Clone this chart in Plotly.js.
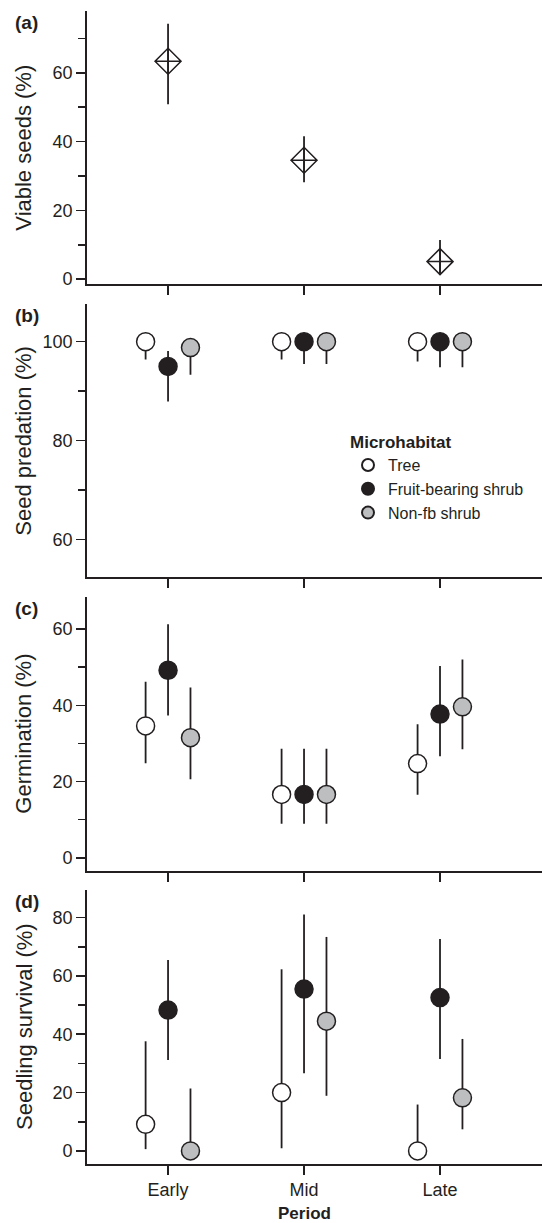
<!DOCTYPE html>
<html>
<head>
<meta charset="utf-8">
<script src="https://cdn.plot.ly/plotly-3.0.1.min.js"></script>
<style>html,body{margin:0;padding:0;background:#fff;}#chart{width:542px;height:1223px;}</style>
</head>
<body>
<div id="chart"></div>
<script>
// ---- Data ----
var categories = ['Early', 'Mid', 'Late'];
var microhabitats = ['Tree', 'Fruit-bearing shrub', 'Non-fb shrub'];

// (a) Viable seeds (%)
var viable = [63.4, 34.6, 5.1];
var viableHi = [74.3, 41.6, 11.4];
var viableLo = [50.9, 28.2, 1.5];

// (b) Seed predation (%)
var predTree = [100, 100, 100];
var predTreeLo = [96.4, 96.4, 96.0];
var predTreeHi = [100, 100, 100];
var predFb = [95.0, 100, 100];
var predFbLo = [87.9, 95.5, 94.8];
var predFbHi = [98.1, 100, 100];
var predNfb = [98.8, 100, 100];
var predNfbLo = [93.3, 95.5, 94.8];
var predNfbHi = [100, 100, 100];

// (c) Germination (%)
var germTree = [34.6, 16.6, 24.7];
var germTreeLo = [24.8, 8.9, 16.5];
var germTreeHi = [46.2, 28.6, 35.0];
var germFb = [49.2, 16.6, 37.7];
var germFbLo = [37.3, 8.9, 26.6];
var germFbHi = [61.3, 28.6, 50.3];
var germNfb = [31.5, 16.6, 39.6];
var germNfbLo = [20.6, 8.9, 28.5];
var germNfbHi = [44.7, 28.6, 52.0];

// (d) Seedling survival (%)
var survTree = [9.1, 20.0, 0];
var survTreeLo = [0.6, 0.9, 0];
var survTreeHi = [37.6, 62.3, 15.9];
var survFb = [48.3, 55.5, 52.6];
var survFbLo = [31.2, 26.6, 31.5];
var survFbHi = [65.5, 81.1, 72.7];
var survNfb = [0, 44.5, 18.2];
var survNfbLo = [0, 18.9, 7.4];
var survNfbHi = [21.4, 73.4, 38.4];

// ---- Styles ----
var INK = '#231f20';
var FONT = 'Liberation Sans, Arial, Helvetica, sans-serif';
var fills = ['#ffffff', '#231f20', '#bcbec0'];
var offsets = [-0.165, 0, 0.165];
var W = 542, H = 1223;

function px2x(px) { return px / W; }
function px2y(py) { return 1 - py / H; }

var panels = [
  {top: 11, bottom: 284.3, range: [-1.5, 78], title: 'Viable seeds (%)', label: '(a)'},
  {top: 304, bottom: 577.3, range: [52.4, 107.6], title: 'Seed predation (%)', label: '(b)'},
  {top: 596.7, bottom: 870.7, range: [-3.4, 68.5], title: 'Germination (%)', label: '(c)'},
  {top: 890, bottom: 1164, range: [-4.5, 89.5], title: 'Seedling survival (%)', label: '(d)'}
];

var idx = categories.map(function (c, i) { return i; });

function errBar(val, lo, hi) {
  return {
    type: 'data', symmetric: false,
    array: val.map(function (v, i) { return hi[i] - v; }),
    arrayminus: val.map(function (v, i) { return v - lo[i]; }),
    color: INK, thickness: 1.8, width: 0
  };
}

var traces = [];
traces.push({
  type: 'scatter', mode: 'markers', xaxis: 'x', yaxis: 'y',
  x: idx, y: viable, showlegend: false, name: 'Viable seeds',
  marker: {symbol: 'diamond-cross-open', size: 20, color: INK, line: {color: INK, width: 1.5}},
  error_y: errBar(viable, viableLo, viableHi)
});

var groups = [
  {ax: '2', sets: [[predTree, predTreeLo, predTreeHi], [predFb, predFbLo, predFbHi], [predNfb, predNfbLo, predNfbHi]], legend: true},
  {ax: '3', sets: [[germTree, germTreeLo, germTreeHi], [germFb, germFbLo, germFbHi], [germNfb, germNfbLo, germNfbHi]], legend: false},
  {ax: '4', sets: [[survTree, survTreeLo, survTreeHi], [survFb, survFbLo, survFbHi], [survNfb, survNfbLo, survNfbHi]], legend: false}
];
groups.forEach(function (g) {
  g.sets.forEach(function (s, k) {
    traces.push({
      type: 'scatter', mode: 'markers', xaxis: 'x' + g.ax, yaxis: 'y' + g.ax,
      name: microhabitats[k], showlegend: g.legend,
      x: idx.map(function (i) { return i + offsets[k]; }), y: s[0],
      marker: {symbol: 'circle', size: 18, color: fills[k], line: {color: INK, width: 1.5}},
      error_y: errBar(s[0], s[1], s[2])
    });
  });
});

var layout = {
  width: W, height: H,
  margin: {l: 0, r: 0, t: 0, b: 0},
  paper_bgcolor: '#fff', plot_bgcolor: '#fff',
  font: {family: FONT, color: INK, size: 18},
  showlegend: true,
  legend: {
    x: px2x(348), y: px2y(426), xanchor: 'left', yanchor: 'top',
    bgcolor: 'rgba(0,0,0,0)', itemsizing: 'constant',
    font: {family: FONT, size: 16, color: INK},
    title: {text: '<b>Microhabitat</b>', font: {family: FONT, size: 17, color: INK}}
  },
  annotations: []
};

panels.forEach(function (p, i) {
  var n = i === 0 ? '' : String(i + 1);
  var xa = {
    domain: [px2x(87), 1], range: [-0.596, 2.75], anchor: 'y' + n,
    showline: true, linecolor: INK, linewidth: 1.8, mirror: false,
    ticks: 'outside', ticklen: 9, tickwidth: 1.6, tickcolor: INK,
    tickvals: idx, ticktext: categories, showticklabels: i === 3,
    showgrid: false, zeroline: false, fixedrange: true,
    tickfont: {family: FONT, size: 18, color: INK}
  };
  var ya = {
    domain: [px2y(p.bottom), px2y(p.top)], range: p.range, anchor: 'x' + n,
    showline: true, linecolor: INK, linewidth: 1.8,
    ticks: 'outside', ticklen: 9, tickwidth: 1.6, tickcolor: INK,
    tick0: 0, dtick: 20, showgrid: false, zeroline: false, fixedrange: true,
    minor: {ticks: 'outside', ticklen: 7, tickwidth: 1.6, tickcolor: INK, tick0: 0, dtick: 10, showgrid: false},
    tickfont: {family: FONT, size: 18, color: INK}
  };
  layout['xaxis' + n] = xa;
  layout['yaxis' + n] = ya;
  layout.annotations.push({
    xref: 'paper', yref: 'paper', x: px2x(24), y: px2y((p.top + p.bottom) / 2),
    xanchor: 'center', yanchor: 'middle', textangle: -90, showarrow: false,
    text: p.title, font: {family: FONT, size: 22, color: INK}
  });
  layout.annotations.push({
    xref: 'paper', yref: 'paper', x: px2x(13), y: px2y(p.top + 11.5),
    xanchor: 'left', yanchor: 'middle', showarrow: false,
    text: '<b>' + p.label + '</b>', font: {family: FONT, size: 19, color: INK}
  });
});

layout.annotations.push({
  xref: 'x4', yref: 'paper', x: 1, y: px2y(1213),
  xanchor: 'center', yanchor: 'middle', showarrow: false,
  text: '<b>Period</b>', font: {family: FONT, size: 17, color: INK}
});

Plotly.newPlot('chart', traces, layout, {staticPlot: true, displayModeBar: false});
</script>
</body>
</html>
